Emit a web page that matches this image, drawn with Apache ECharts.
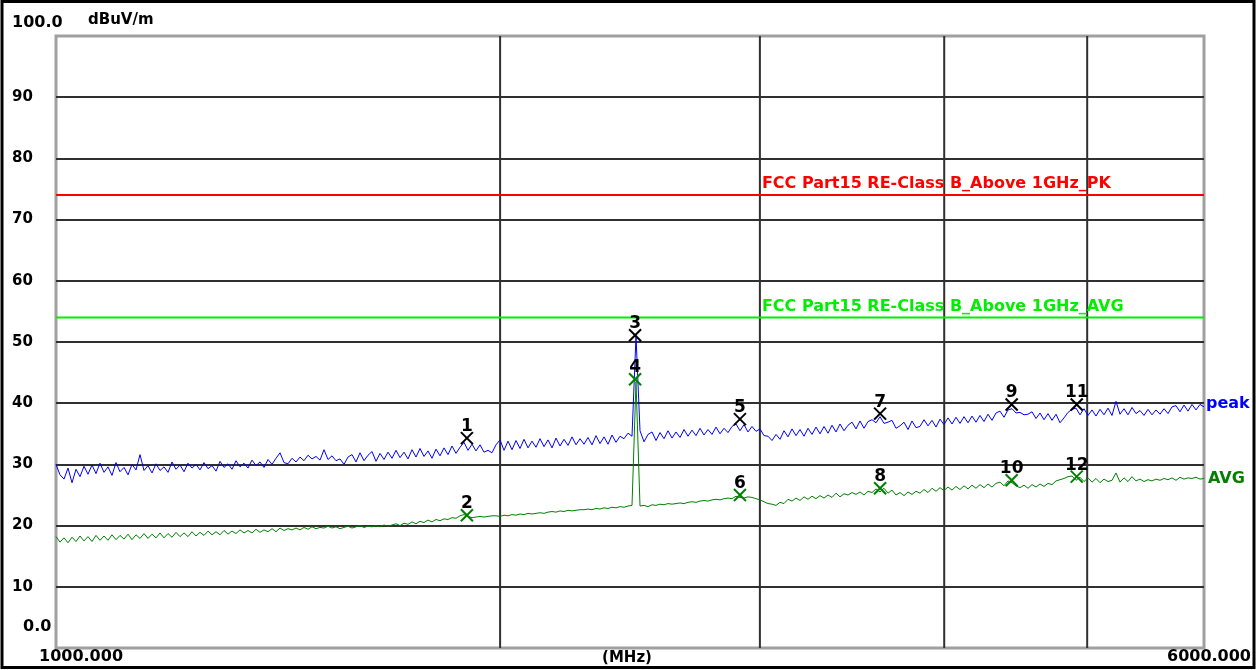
<!DOCTYPE html>
<html>
<head>
<meta charset="utf-8">
<script src="https://cdn.jsdelivr.net/npm/echarts@6/dist/echarts.min.js"></script>
<style>
html,body{margin:0;padding:0;background:#fff;}
#chart{width:1256px;height:670px;}
</style>
</head>
<body>
<div id="chart"></div>
<script>
// ---- data ----
const freqStart = 1000;
const freqStop = 6000;
const gridFreqs = [2000, 3000, 4000, 5000];
const yTickLabels = ['10','20','30','40','50','60','70','80','90'];

const peakValues = [
30.0,28.3,27.6,29.4,27.0,29.2,28.0,29.7,28.4,29.9,28.5,30.2,
28.7,29.6,28.2,30.3,28.8,29.5,28.3,30.0,29.1,31.6,29.0,29.8,
28.6,30.1,29.0,29.6,28.7,30.4,29.2,29.9,28.8,30.2,29.4,30.0,
29.1,30.3,29.3,29.8,28.9,30.5,29.5,30.1,29.2,30.6,29.6,30.2,
29.4,30.7,29.8,30.4,29.5,30.8,30.0,31.0,31.9,30.3,30.1,31.0,
30.4,31.2,30.6,31.5,30.9,31.3,30.7,32.4,30.8,31.4,30.6,30.9,
30.0,31.2,31.6,30.4,31.9,30.6,31.5,32.1,30.5,31.8,30.8,32.0,
31.0,32.3,31.1,32.0,30.9,32.4,31.2,32.6,31.3,32.2,31.0,32.5,
31.4,32.7,31.6,33.0,31.8,32.8,33.6,32.3,33.3,32.2,33.2,32.0,
32.3,31.9,33.2,34.0,32.3,33.8,32.4,33.9,32.6,34.1,32.7,33.8,
32.8,34.2,32.9,34.0,32.7,34.3,33.0,34.1,33.1,34.5,33.2,34.2,
33.3,34.4,33.2,34.7,33.4,34.5,33.3,34.8,33.6,34.6,34.2,35.1,
34.6,51.0,35.5,33.7,34.9,35.3,33.9,35.2,34.2,35.5,34.3,35.3,
34.4,35.7,34.6,35.6,34.7,35.9,34.8,35.7,34.9,36.1,35.0,35.9,
35.2,36.2,36.6,35.5,36.5,35.3,36.2,35.4,35.8,34.7,34.6,33.9,
34.9,34.1,35.5,34.5,35.8,34.7,35.7,34.6,35.9,34.9,36.1,35.0,
36.2,35.1,36.4,35.3,36.6,35.5,36.4,36.9,35.8,37.1,35.9,37.0,
37.3,36.8,37.8,36.7,36.9,37.2,35.9,36.3,36.9,35.7,37.1,36.0,
36.2,37.3,36.3,37.2,36.1,37.4,36.5,37.6,36.6,37.7,36.7,37.8,
36.8,37.9,36.9,38.0,37.0,38.2,37.2,38.4,38.7,37.7,38.9,39.1,
38.4,38.5,38.1,38.2,38.6,37.5,38.4,37.3,38.3,37.2,38.2,36.8,
37.6,38.5,39.0,39.2,38.1,39.1,38.0,38.9,37.9,39.0,38.1,39.2,
38.0,40.3,38.2,39.1,38.1,39.3,38.3,38.8,38.0,39.0,38.1,38.9,
38.2,39.1,38.3,39.4,39.6,38.6,39.7,38.7,39.8,38.9,39.8,39.4
];

const avgValues = [
18.2,17.3,18.0,17.2,18.1,17.4,18.3,17.5,18.2,17.4,18.4,17.6,
18.3,17.6,18.5,17.7,18.4,17.8,18.6,17.7,18.5,17.9,18.7,17.9,
18.6,18.0,18.8,18.0,18.7,18.1,18.9,18.2,18.8,18.2,19.0,18.3,
18.9,18.4,19.1,18.5,19.0,18.5,19.2,18.6,19.1,18.7,19.3,18.8,
19.2,18.8,19.4,18.9,19.3,19.0,19.5,19.0,19.6,19.2,19.5,19.3,
19.6,19.3,19.7,19.4,19.8,19.5,19.7,19.6,19.9,19.6,19.8,19.5,
19.7,19.9,19.6,19.8,20.0,19.7,19.9,19.8,20.0,19.8,20.1,19.9,
20.1,20.3,20.0,20.4,20.2,20.6,20.3,20.7,20.5,20.9,20.6,21.0,
20.8,21.1,21.0,21.3,21.2,21.6,21.8,21.5,21.3,21.4,21.5,21.4,
21.5,21.6,21.6,21.5,21.7,21.6,21.8,21.7,21.9,21.8,22.0,21.9,
22.0,22.1,22.0,22.2,22.3,22.2,22.4,22.3,22.5,22.4,22.5,22.6,
22.6,22.7,22.6,22.8,22.7,22.9,22.8,23.0,22.9,23.1,23.0,23.2,
23.3,43.5,23.2,23.3,23.1,23.4,23.3,23.5,23.4,23.6,23.5,23.6,
23.7,23.6,23.8,23.9,23.8,24.0,24.1,24.0,24.2,24.3,24.2,24.4,
24.5,24.4,24.8,24.6,24.5,24.7,24.6,24.4,24.2,23.9,23.6,23.5,
23.3,23.8,23.6,24.3,24.0,24.5,24.1,24.7,24.3,24.8,24.4,24.9,
24.5,25.0,24.6,25.3,24.7,25.2,25.0,25.4,25.1,25.5,25.0,25.6,
25.4,26.0,25.5,26.1,25.3,25.8,25.0,25.4,24.9,25.5,25.1,25.6,
25.3,25.9,25.4,26.1,25.6,26.2,25.7,26.3,25.8,26.4,25.9,26.5,
26.0,26.6,26.1,26.7,26.2,26.8,26.3,26.9,27.1,26.5,27.3,27.0,
26.5,26.2,26.6,26.1,26.7,26.3,26.8,26.4,26.9,26.7,27.3,27.5,
27.7,28.0,28.1,27.4,27.9,27.2,27.8,27.1,27.7,27.0,27.6,27.2,
27.4,28.6,27.1,27.8,27.2,28.0,27.3,27.6,27.2,27.5,27.3,27.6,
27.4,27.7,27.5,27.8,27.4,27.9,27.6,27.8,27.7,27.9,27.6,27.7
];

const markerNos = [1, 2, 3, 4, 5, 6, 7, 8, 9, 10, 11, 12];
const markerFreqs = [1899, 1899, 2469, 2469, 2908, 2908, 3619, 3619, 4444, 4444, 4919, 4919];
const markerLevels = [34.3, 21.7, 51.1, 43.9, 37.4, 25.0, 38.3, 26.1, 39.8, 27.4, 39.8, 28.0];
const markerDetectors = ['PK','AVG','PK','AVG','PK','AVG','PK','AVG','PK','AVG','PK','AVG'];

const limitNames = ['FCC Part15 RE-Class B_Above 1GHz_PK', 'FCC Part15 RE-Class B_Above 1GHz_AVG'];
const limitLevels = [74, 54];
const limitLabelFreq = 3000;

// ---- build ----
const FONT = '"DejaVu Sans", "Liberation Sans", sans-serif';
const N = peakValues.length;
// sweep grid: points evenly spread over the log frequency axis
const sweepFreqs = peakValues.map((_, i) => freqStart * Math.pow(freqStop / freqStart, i / (N - 1)));
const limitColors = ['#ff0000', '#00ee00'];

const chart = echarts.init(document.getElementById('chart'), null, {renderer: 'canvas'});

function txt(text, x, y, align, size) {
  return {type: 'text', x: x, y: y, style: {text: text, font: 'bold ' + (size || 15) + 'px ' + FONT, fill: '#000',
    textAlign: align, textVerticalAlign: 'middle', align: align, verticalAlign: 'middle'}};
}

const option = {
  animation: false,
  backgroundColor: '#ffffff',
  grid: {left: 56, right: 52, top: 36, bottom: 22, show: true, borderColor: '#a0a0a0', borderWidth: 3, backgroundColor: '#ffffff'},
  xAxis: {
    type: 'log', logBase: 10, min: freqStart, max: freqStop,
    axisLine: {show: false}, axisTick: {show: false}, axisLabel: {show: false}, splitLine: {show: false}
  },
  yAxis: {
    type: 'value', min: 0, max: 100, interval: 10,
    axisLine: {show: false}, axisTick: {show: false},
    axisLabel: {
      formatter: v => (yTickLabels.indexOf(String(v)) >= 0 ? String(v) : ''),
      align: 'left', margin: 44, color: '#000', fontWeight: 'bold', fontSize: 15, fontFamily: FONT
    },
    splitLine: {show: true, showMinLine: false, showMaxLine: false, lineStyle: {color: '#303030', width: 2}}
  },
  graphic: [
    {type: 'rect', z: 100, silent: true, shape: {x: 2, y: 1.5, width: 1252, height: 666}, style: {fill: 'none', stroke: '#000', lineWidth: 3}},
    txt('100.0', 12, 23, 'left', 16),
    txt('dBuV/m', 88, 20, 'left', 15),
    txt('0.0', 23, 627, 'left', 16),
    txt('1000.000', 39, 657, 'left', 16),
    txt('(MHz)', 627, 658, 'center', 15),
    txt('6000.000', 1251, 657, 'right', 16)
  ],
  series: [
    {
      name: 'vgrid', type: 'custom', z: 1, silent: true,
      data: gridFreqs.map(f => [f, 0]),
      encode: {x: 0, y: 1},
      renderItem: (params, api) => {
        const a = api.coord([api.value(0), 0]);
        const b = api.coord([api.value(0), 100]);
        return {type: 'line', shape: {x1: a[0], y1: a[1], x2: b[0], y2: b[1]}, style: {stroke: '#303030', lineWidth: 2}};
      }
    },
    {
      name: 'PK limit', type: 'line', z: 2, silent: true, symbol: 'none',
      data: [[freqStart, limitLevels[0]], [freqStop, limitLevels[0]]],
      lineStyle: {color: limitColors[0], width: 2}
    },
    {
      name: 'AVG limit', type: 'line', z: 2, silent: true, symbol: 'none',
      data: [[freqStart, limitLevels[1]], [freqStop, limitLevels[1]]],
      lineStyle: {color: limitColors[1], width: 2}
    },
    {
      name: 'limit labels', type: 'custom', z: 4, silent: true, clip: false,
      data: limitLevels.map((lv, k) => [limitLabelFreq, lv, k]),
      encode: {x: 0, y: 1},
      renderItem: (params, api) => {
        const p = api.coord([api.value(0), api.value(1)]);
        const k = api.value(2);
        return {type: 'text', x: p[0] + 2, y: p[1] - 3, style: {text: limitNames[k], font: 'bold 16px ' + FONT, fill: limitColors[k], textAlign: 'left', textVerticalAlign: 'bottom', align: 'left', verticalAlign: 'bottom'}};
      }
    },
    {
      name: 'AVG', type: 'line', z: 3, symbol: 'none',
      data: sweepFreqs.map((f, i) => [f, avgValues[i]]),
      lineStyle: {color: '#008000', width: 1},
      endLabel: {show: true, formatter: 'AVG', color: '#008000', fontWeight: 'bold', fontSize: 16, fontFamily: FONT, distance: 4}
    },
    {
      name: 'peak', type: 'line', z: 3, symbol: 'none',
      data: sweepFreqs.map((f, i) => [f, peakValues[i]]),
      lineStyle: {color: '#0000ff', width: 1},
      endLabel: {show: true, formatter: 'peak', color: '#0000ff', fontWeight: 'bold', fontSize: 16, fontFamily: FONT, distance: 2, offset: [0, -3]}
    },
    {
      name: 'markers', type: 'custom', z: 5, silent: true, clip: false,
      data: markerNos.map((n, k) => [markerFreqs[k], markerLevels[k], n, markerDetectors[k] === 'PK' ? 0 : 1]),
      encode: {x: 0, y: 1},
      renderItem: (params, api) => {
        const p = api.coord([api.value(0), api.value(1)]);
        const c = api.value(3) === 0 ? '#000000' : '#008000';
        const h = 6;
        return {type: 'group', children: [
          {type: 'line', shape: {x1: p[0] - h, y1: p[1] - h, x2: p[0] + h, y2: p[1] + h}, style: {stroke: c, lineWidth: 2}},
          {type: 'line', shape: {x1: p[0] - h, y1: p[1] + h, x2: p[0] + h, y2: p[1] - h}, style: {stroke: c, lineWidth: 2}},
          {type: 'text', x: p[0], y: p[1] - 3, style: {text: String(api.value(2)), font: 'bold 17px ' + FONT, fill: '#000', textAlign: 'center', textVerticalAlign: 'bottom', align: 'center', verticalAlign: 'bottom'}}
        ]};
      }
    }
  ]
};
chart.setOption(option);
</script>
</body>
</html>
